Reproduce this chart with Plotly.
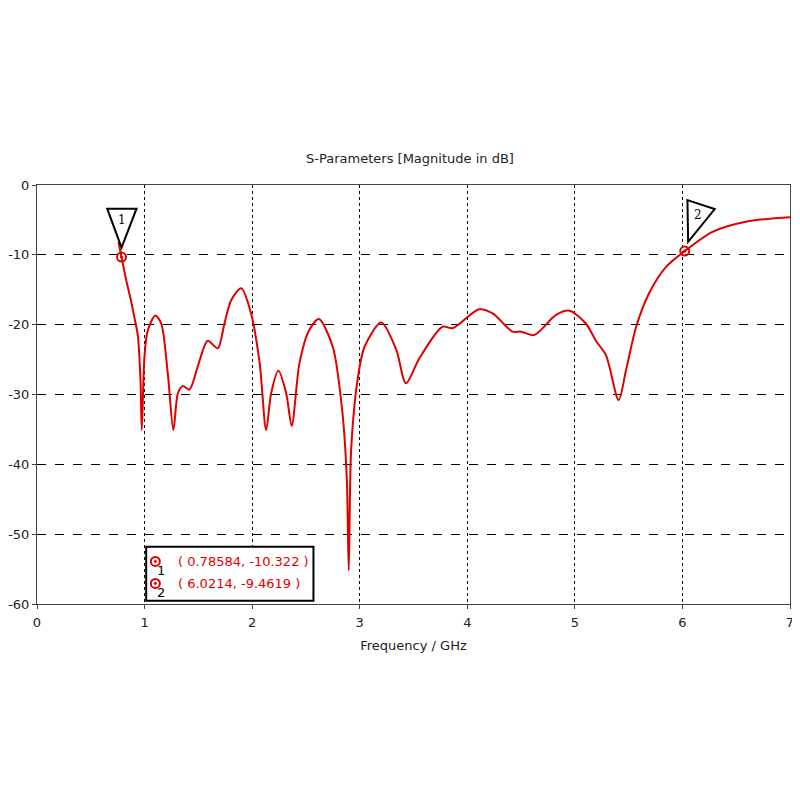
import plotly.graph_objects as go

# ---- data ----
freq_ghz = [0.757, 0.78584, 0.829, 0.87, 0.906, 0.937, 0.962, 0.974, 0.999, 1.03, 1.10, 1.154,
            1.216, 1.268, 1.31, 1.355, 1.417, 1.494, 1.587, 1.68, 1.743, 1.805, 1.898,
            1.99, 2.07, 2.13, 2.177, 2.244, 2.316, 2.368, 2.44, 2.53, 2.62, 2.75, 2.84,
            2.88, 2.898, 2.92, 2.98, 3.044, 3.2, 3.34, 3.43, 3.555, 3.77, 3.865, 4.11,
            4.236, 4.42, 4.5, 4.62, 4.825, 4.95, 5.10, 5.20, 5.29, 5.407, 5.476, 5.57,
            5.69, 5.85, 6.0214, 6.28, 6.59, 7.0]
s11_db = [-8.2, -10.322, -13.6, -16.3, -19.0, -21.5, -27.9, -35.1, -24.6, -20.8, -18.7, -19.8,
          -27.0, -35.1, -29.8, -28.8, -29.3, -26.0, -22.3, -23.4, -19.8, -16.5, -14.8,
          -18.4, -25.5, -35.1, -29.8, -26.6, -29.8, -34.5, -25.5, -20.8, -19.2, -23.2, -32.7,
          -42.0, -55.2, -38.0, -27.9, -23.2, -19.7, -23.6, -28.4, -24.8, -20.3, -20.5, -17.8,
          -18.4, -21.0, -21.0, -21.5, -18.6, -18.0, -19.8, -22.4, -24.4, -30.8, -26.5, -20.3,
          -15.5, -11.7, -9.4619, -6.7, -5.25, -4.63]

marker_ids = ["1", "2"]
marker_x = [0.78584, 6.0214]
marker_y = [-10.322, -9.4619]
marker_text = ["( 0.78584, -10.322 )", "( 6.0214, -9.4619 )"]

x_ticks = [0, 1, 2, 3, 4, 5, 6, 7]
y_ticks = [0, -10, -20, -30, -40, -50, -60]

RED = "#e00000"
FONT = "DejaVu Sans"
FS = 13

# pixel -> data scale (plot area 753 x 419 px for 7 GHz x 60 dB)
PX_X = 7.0 / 753.0
PX_Y = 60.0 / 419.0


def off(x0, y0, dx, dy):
    return x0 + dx * PX_X, y0 - dy * PX_Y


fig = go.Figure()

fig.add_trace(go.Scatter(x=freq_ghz, y=s11_db, mode="lines",
                         line=dict(color=RED, width=2, shape="spline", smoothing=0.8),
                         showlegend=False, hoverinfo="x+y"))

fig.add_trace(go.Scatter(x=marker_x, y=marker_y, mode="markers",
                         marker=dict(symbol="circle-open-dot", size=9, color=RED,
                                     line=dict(width=2, color=RED)),
                         showlegend=False))

shapes = []
annotations = []

# marker flags (triangles)
tri_offsets = [
    [(-14.3, -48.4), (15, -48.4), (0, -9.4)],
    [(2.7, -51), (30, -42), (3.4, -9.3)],
]
label_offsets = [(0, -37), (13.4, -36)]
for mid, mx, my, tri, lab in zip(marker_ids, marker_x, marker_y, tri_offsets, label_offsets):
    pts = [off(mx, my, dx, dy) for dx, dy in tri]
    path = "M {} {} L {} {} L {} {} Z".format(pts[0][0], pts[0][1], pts[1][0], pts[1][1],
                                             pts[2][0], pts[2][1])
    shapes.append(dict(type="path", path=path, xref="x", yref="y",
                       line=dict(color="black", width=2), fillcolor="white", layer="above"))
    lx, ly = off(mx, my, *lab)
    annotations.append(dict(x=lx, y=ly, xref="x", yref="y", text=mid, showarrow=False,
                            font=dict(family="DejaVu Serif", size=12, color="black")))

# marker readout box
bx0, by0 = 1.015, -51.8
bx1, by1 = 2.57, -59.55
shapes.append(dict(type="rect", x0=bx0, x1=bx1, y0=by0, y1=by1, xref="x", yref="y",
                   line=dict(color="black", width=2), fillcolor="white", layer="between"))
row_y = [-53.9, -57.05]
fig.add_trace(go.Scatter(x=[1.10, 1.10], y=row_y, mode="markers",
                         marker=dict(symbol="circle-open-dot", size=9, color=RED,
                                     line=dict(width=2, color=RED)),
                         showlegend=False, cliponaxis=False, hoverinfo="skip"))
for mid, txt, ry in zip(marker_ids, marker_text, row_y):
    annotations.append(dict(x=1.29, y=ry, xref="x", yref="y", text=txt, showarrow=False,
                            xanchor="left", font=dict(family=FONT, size=FS, color=RED)))
    annotations.append(dict(x=1.15, y=ry - 1.35, xref="x", yref="y", text=mid, showarrow=False,
                            font=dict(family=FONT, size=FS, color="black")))

fig.update_layout(
    width=800, height=800,
    margin=dict(l=29, r=18, t=177, b=204, autoexpand=False),
    paper_bgcolor="white", plot_bgcolor="white",
    shapes=shapes, annotations=annotations,
    font=dict(family=FONT, size=FS, color="#222"),
    title=dict(text="S-Parameters [Magnitude in dB]", x=(410 - 8) / 800, xref="container",
               xanchor="center", y=1 - 150 / 800, yref="container", yanchor="middle",
               font=dict(family=FONT, size=FS, color="#222")),
    xaxis=dict(range=[0, 7], tickvals=x_ticks, ticktext=[str(v) for v in x_ticks],
               automargin=False, ticklabelstandoff=2,
               showgrid=True, gridcolor="black", gridwidth=1, griddash="dot",
               showline=True, linecolor="#444", linewidth=1, mirror=True,
               ticks="outside", ticklen=4, tickcolor="#444", zeroline=False,
               title=dict(text="Frequency / GHz", standoff=12,
                          font=dict(family=FONT, size=FS, color="#222"))),
    yaxis=dict(range=[-60, 0], tickvals=y_ticks, ticktext=[str(v) for v in y_ticks],
               automargin=False,
               showgrid=True, gridcolor="black", gridwidth=1, griddash="dash",
               showline=True, linecolor="#444", linewidth=1, mirror=True,
               ticks="outside", ticklen=4, tickcolor="#444", zeroline=False),
)

fig.write_html("out.html")
